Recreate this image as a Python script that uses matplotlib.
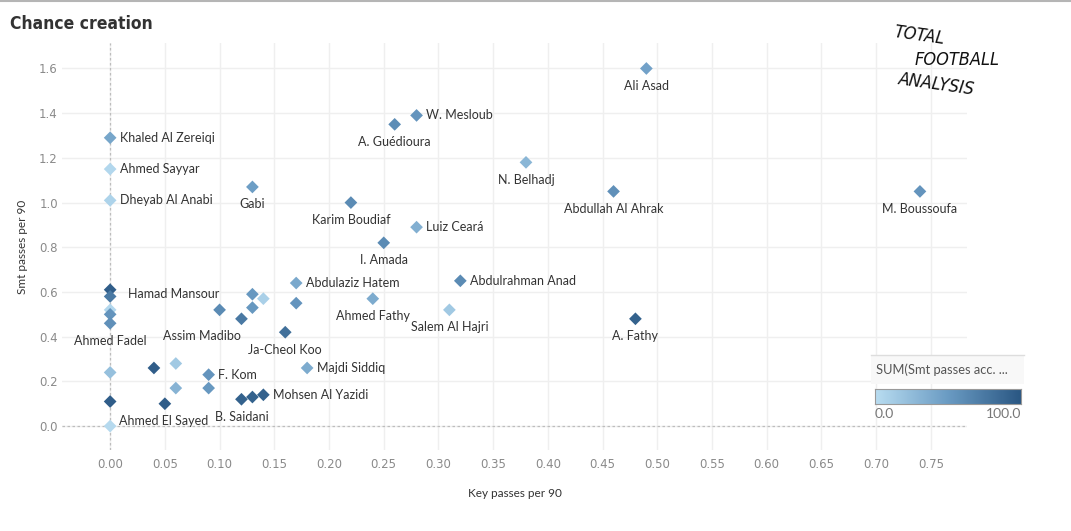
import numpy as np
import matplotlib
matplotlib.use("Agg")
from matplotlib import pyplot as plt
from matplotlib import font_manager
from matplotlib.colors import LinearSegmentedColormap

# data
players = ["Ali Asad", "W. Mesloub", "A. Guédioura", "Khaled Al Zereiqi", "Ahmed Sayyar",
           "N. Belhadj", "Gabi", "Abdullah Al Ahrak", "M. Boussoufa", "Dheyab Al Anabi",
           "Karim Boudiaf", "Luiz Ceará", "I. Amada", "Abdulrahman Anad", "Abdulaziz Hatem",
           "", "Hamad Mansour", "", "", "Ahmed Fadel",
           "Assim Madibo", "", "", "", "",
           "", "Ahmed Fathy", "Ja-Cheol Koo", "Salem Al Hajri", "A. Fathy",
           "Majdi Siddiq", "", "", "", "F. Kom",
           "", "", "B. Saidani", "", "Mohsen Al Yazidi",
           "", "", "Ahmed El Sayed"]
key_passes = [0.49, 0.28, 0.26, 0.00, 0.00,
              0.38, 0.13, 0.46, 0.74, 0.00,
              0.22, 0.28, 0.25, 0.32, 0.17,
              0.00, 0.00, 0.00, 0.00, 0.00,
              0.10, 0.13, 0.14, 0.13, 0.12,
              0.17, 0.24, 0.16, 0.31, 0.48,
              0.18, 0.04, 0.06, 0.00, 0.09,
              0.06, 0.09, 0.12, 0.13, 0.14,
              0.00, 0.05, 0.00]
smt_passes = [1.60, 1.39, 1.35, 1.29, 1.15,
              1.18, 1.07, 1.05, 1.05, 1.01,
              1.00, 0.89, 0.82, 0.65, 0.64,
              0.61, 0.58, 0.52, 0.50, 0.46,
              0.52, 0.59, 0.57, 0.53, 0.48,
              0.55, 0.57, 0.42, 0.52, 0.48,
              0.26, 0.26, 0.28, 0.24, 0.23,
              0.17, 0.17, 0.12, 0.13, 0.14,
              0.11, 0.10, 0.00]
smt_acc = [45, 55, 60, 42, 5,
           30, 48, 58, 55, 8,
           62, 35, 62, 62, 40,
           95, 75, 5, 55, 58,
           62, 52, 10, 52, 75,
           55, 38, 82, 15, 92,
           38, 95, 15, 22, 55,
           32, 52, 92, 92, 92,
           95, 95, 3]

# label placement (points offsets); default is below the mark
right_labels = ["W. Mesloub", "Khaled Al Zereiqi", "Ahmed Sayyar", "Dheyab Al Anabi",
                "Luiz Ceará", "Abdulrahman Anad", "Abdulaziz Hatem", "Majdi Siddiq",
                "F. Kom", "Mohsen Al Yazidi"]
custom_offsets = {"Hamad Mansour": (13, 1.5, "left"),
                  "Assim Madibo": (-13, -18.5, "center"),
                  "Ahmed El Sayed": (6.5, 3.5, "left")}


def narrow_font(bold=True):
    # pick any condensed / narrow face that is installed
    for f in font_manager.fontManager.ttflist:
        nm = f.name + " " + str(f.stretch)
        narrow = ("Narrow" in nm or "Condensed" in nm or "condensed" in str(f.stretch))
        is_bold = f.weight in ("bold", 700, "heavy", 800, 900) or (isinstance(f.weight, int) and f.weight >= 600)
        if narrow and "italic" not in f.style and is_bold == bold:
            return font_manager.FontProperties(fname=f.fname)
    return font_manager.FontProperties(family="DejaVu Sans", weight="bold" if bold else "normal")


cmap = LinearSegmentedColormap.from_list("tab_blue", ["#b9ddf1", "#6a9bc3", "#2a5783"])

fig = plt.figure(figsize=(10.71, 5.31), dpi=100)
ax = fig.add_axes([62 / 1071, 1 - 450 / 531, 905 / 1071, 407 / 531])

ax.set_xlim(-0.044, 0.783)
ax.set_ylim(-0.107, 1.714)
ax.set_xticks(np.arange(0, 0.76, 0.05))
ax.set_yticks(np.arange(0, 1.61, 0.2))
ax.set_xticklabels(["%.2f" % v for v in np.arange(0, 0.76, 0.05)])
ax.set_yticklabels(["%.1f" % v for v in np.arange(0, 1.61, 0.2)])
ax.grid(True, color="#efefef", linewidth=1)
ax.set_axisbelow(True)
for s in ax.spines.values():
    s.set_visible(False)
ax.tick_params(length=0, colors="#8a8a8a", labelsize=8.5)
ax.tick_params(axis="y", pad=3)
ax.tick_params(axis="x", pad=6)
ax.axhline(0, color="#bdbdbd", linestyle=(0, (2, 2)), linewidth=0.9, zorder=1)
ax.axvline(0, color="#bdbdbd", linestyle=(0, (2, 2)), linewidth=0.9, zorder=1)

ax.scatter(key_passes, smt_passes, c=smt_acc, cmap=cmap, vmin=0, vmax=100,
           marker="D", s=42, edgecolors="none", zorder=3)

for name, xv, yv in zip(players, key_passes, smt_passes):
    if not name:
        continue
    if name in custom_offsets:
        dx, dy, ha = custom_offsets[name]
    elif name in right_labels:
        dx, dy, ha = 7, 0, "left"
    else:
        dx, dy, ha = 0, -12.5, "center"
    ax.annotate(name, (xv, yv), xytext=(dx, dy), textcoords="offset points",
                ha=ha, va="center", fontsize=9, color="#333333", family="Lato", zorder=4)

ax.set_xlabel("Key passes per 90", fontsize=8.5, color="#333333", family="Lato", labelpad=12)
ax.set_ylabel("Smt passes per 90", fontsize=8.5, color="#333333", family="Lato", labelpad=8)

# title and frame line
title_fp = narrow_font(True)
title_fp.set_size(12.5)
fig.text(10 / 1071, 1 - 24 / 531, "Chance creation", fontproperties=title_fp,
         color="#333333", va="center")
fig.add_artist(plt.Line2D([0, 1], [0.998, 0.998], color="#b5b5b5", linewidth=1.5))

# logo
logo_fp = narrow_font(False)
logo_fp.set_size(13)
fig.text(893 / 1071, 1 - 36 / 531, "TOTAL", fontproperties=logo_fp,
         color="#111111", va="center", rotation=-8)
fig.text(915 / 1071, 1 - 60 / 531, "FOOTBALL", fontproperties=logo_fp,
         color="#111111", va="center")
fig.text(897 / 1071, 1 - 84 / 531, "ANALYSIS", fontproperties=logo_fp,
         color="#111111", va="center", rotation=-8)

# colour legend
fig.patches.append(plt.Rectangle((871 / 1071, 1 - 384 / 531), 153 / 1071, 29 / 531,
                                 transform=fig.transFigure, facecolor="#f8f8f8",
                                 edgecolor="none", zorder=5))
fig.add_artist(plt.Line2D([871 / 1071, 1024 / 1071], [1 - 355 / 531] * 2, color="#dddddd",
                          linewidth=1, zorder=6))
fig.text(876 / 1071, 1 - 370 / 531, "SUM(Smt passes acc. ...", fontsize=9.3, color="#555555",
         family="Lato", va="center", zorder=7)
cax = fig.add_axes([875 / 1071, 1 - 404 / 531, 146 / 1071, 15 / 531])
cax.imshow(np.linspace(0, 1, 256)[None, :], aspect="auto", cmap=cmap)
cax.set_xticks([])
cax.set_yticks([])
for s in cax.spines.values():
    s.set_color("#999999")
fig.text(875 / 1071, 1 - 414 / 531, "0.0", fontsize=10, color="#777777", family="Lato", va="center")
fig.text(1021 / 1071, 1 - 414 / 531, "100.0", fontsize=10, color="#777777", family="Lato",
         va="center", ha="right")

fig.savefig("out.png", dpi=100)
